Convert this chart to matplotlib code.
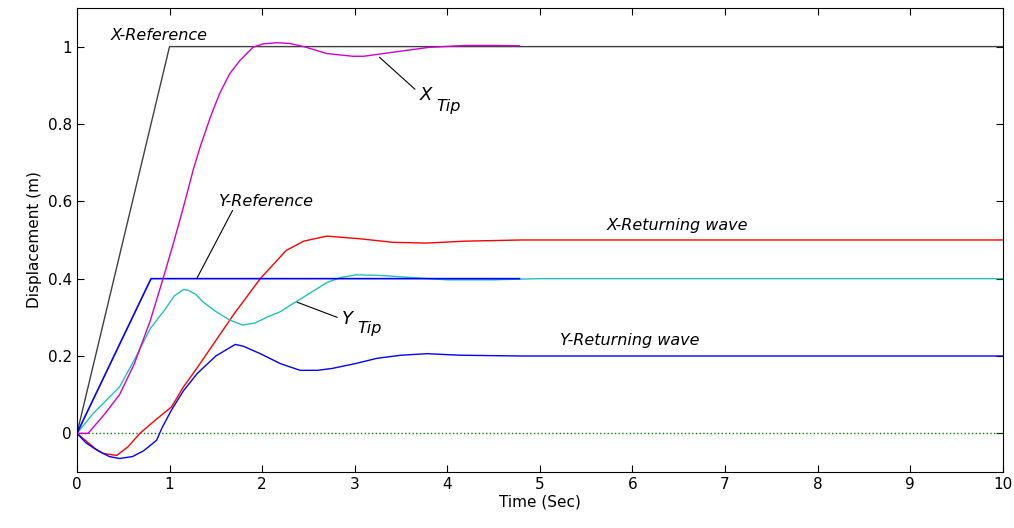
import matplotlib.pyplot as plt

# reference signals
xref_t = [0, 1, 10]
xref_y = [0, 1, 1]
yref_t = [0, 0.8, 4.78]
yref_y = [0, 0.4, 0.4]

# tip responses
xtip_t = [0, 0.12, 0.30, 0.46, 0.62, 0.79, 0.93, 1.04, 1.15, 1.26, 1.33, 1.44, 1.54, 1.65, 1.76, 1.9, 2.01, 2.16, 2.3, 2.45, 2.7, 2.98, 3.1, 3.4, 3.8, 4.2, 4.5, 4.78]
xtip_y = [0, 0, 0.05, 0.10, 0.18, 0.29, 0.40, 0.49, 0.585, 0.685, 0.74, 0.817, 0.878, 0.93, 0.964, 0.998, 1.007, 1.01, 1.008, 1.0, 0.982, 0.975, 0.975, 0.985, 0.998, 1.003, 1.003, 1.002]
ytip_t = [0, 0.17, 0.46, 0.62, 0.79, 0.95, 1.05, 1.15, 1.2, 1.28, 1.36, 1.5, 1.65, 1.79, 1.92, 2.05, 2.2, 2.33, 2.5, 2.7, 2.85, 3.02, 3.3, 3.6, 4.0, 4.5, 5.0, 10]
ytip_y = [0, 0.05, 0.12, 0.19, 0.27, 0.32, 0.355, 0.372, 0.37, 0.36, 0.34, 0.315, 0.293, 0.28, 0.285, 0.30, 0.315, 0.335, 0.36, 0.39, 0.403, 0.41, 0.408, 0.403, 0.397, 0.397, 0.40, 0.40]

# returning waves
xret_t = [0, 0.1, 0.2, 0.28, 0.43, 0.55, 0.68, 0.85, 1.02, 1.15, 1.3, 1.5, 1.7, 1.98, 2.26, 2.45, 2.7, 3.06, 3.41, 3.77, 4.2, 4.8, 10]
xret_y = [0, -0.02, -0.04, -0.052, -0.057, -0.035, 0, 0.035, 0.068, 0.12, 0.17, 0.24, 0.31, 0.40, 0.473, 0.497, 0.51, 0.503, 0.494, 0.492, 0.497, 0.50, 0.50]
yret_t = [0, 0.1, 0.22, 0.35, 0.46, 0.6, 0.72, 0.86, 0.92, 1.02, 1.15, 1.3, 1.5, 1.71, 1.8, 1.98, 2.2, 2.41, 2.6, 2.76, 3.0, 3.24, 3.5, 3.78, 4.14, 4.8, 10]
yret_y = [0, -0.025, -0.044, -0.06, -0.065, -0.06, -0.045, -0.018, 0.015, 0.06, 0.11, 0.155, 0.2, 0.23, 0.225, 0.206, 0.18, 0.163, 0.163, 0.168, 0.18, 0.194, 0.202, 0.206, 0.202, 0.20, 0.20]

fig = plt.figure(figsize=(10.14, 5.28), dpi=100)
ax = fig.add_axes([0.0759, 0.106, 0.913, 0.879])

ax.plot([0, 10], [0, 0], ':', color='#008000', lw=1.0)
ax.plot(xref_t, xref_y, color='#404040', lw=1.0)
ax.plot(xret_t, xret_y, color='#ff0000', lw=1.0)
ax.plot(ytip_t, ytip_y, color='#20c0c0', lw=1.0)
ax.plot(yret_t, yret_y, color='#0000ff', lw=1.0)
ax.plot(yref_t, yref_y, color='#0000ff', lw=1.2)
ax.plot(xtip_t, xtip_y, color='#d000d0', lw=1.0)

ax.set_xlim(0, 10)
ax.set_ylim(-0.1, 1.1)
ax.set_xticks(range(0, 11))
ax.set_yticks([0, 0.2, 0.4, 0.6, 0.8, 1])
ax.set_yticklabels(['0', '0.2', '0.4', '0.6', '0.8', '1'])
ax.tick_params(direction='in', top=True, right=True, labelsize=11, length=5)
ax.set_xlabel('Time (Sec)', fontsize=11, labelpad=2)
ax.set_ylabel('Displacement (m)', fontsize=11, labelpad=4)

fs = 11.5
ax.text(0.36, 1.028, 'X-Reference', style='italic', fontsize=fs, va='center')
ax.text(1.53, 0.60, 'Y-Reference', style='italic', fontsize=fs, va='center')
ax.plot([1.30, 1.68], [0.403, 0.576], color='k', lw=0.8)
ax.text(3.70, 0.875, 'X', style='italic', fontsize=13, va='center')
ax.text(3.88, 0.845, 'Tip', style='italic', fontsize=fs, va='center')
ax.plot([3.27, 3.65], [0.972, 0.89], color='k', lw=0.8)
ax.text(2.86, 0.295, 'Y', style='italic', fontsize=13, va='center')
ax.text(3.03, 0.27, 'Tip', style='italic', fontsize=fs, va='center')
ax.plot([2.38, 2.81], [0.339, 0.30], color='k', lw=0.8)
ax.text(6.49, 0.537, 'X-Returning wave', style='italic', fontsize=fs, ha='center', va='center')
ax.text(5.97, 0.24, 'Y-Returning wave', style='italic', fontsize=fs, ha='center', va='center')

fig.savefig('out.png', dpi=100)
